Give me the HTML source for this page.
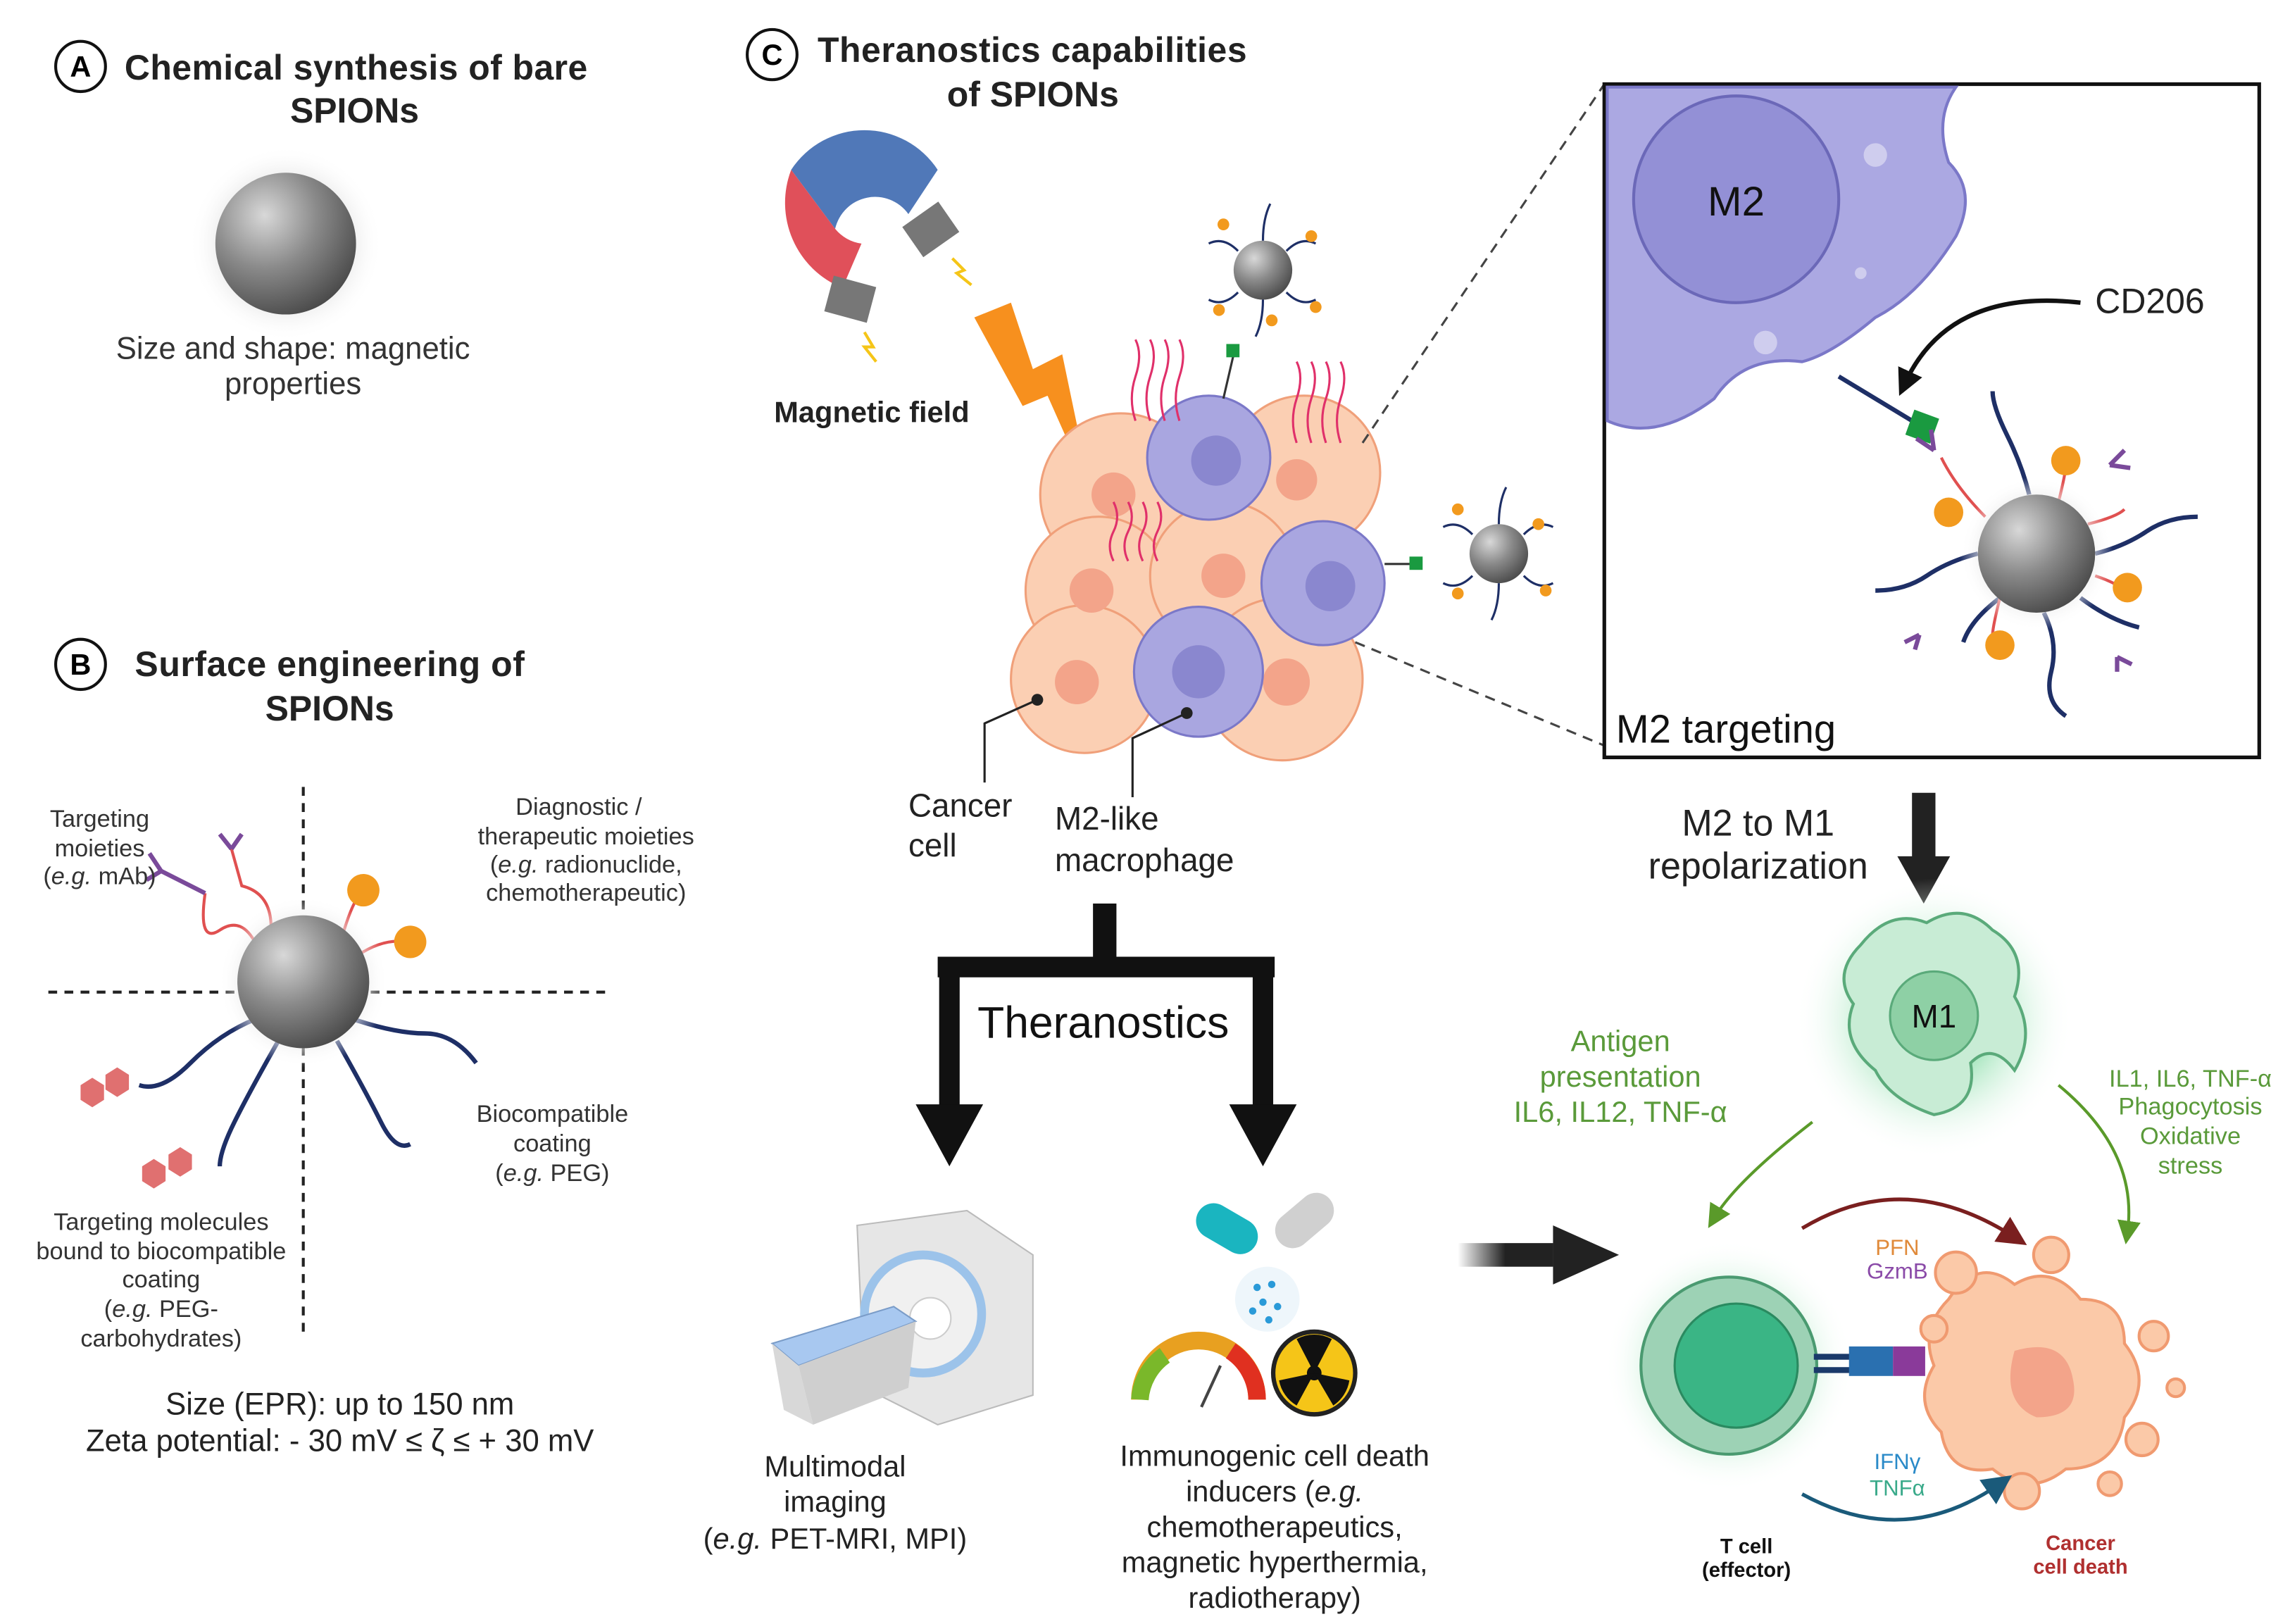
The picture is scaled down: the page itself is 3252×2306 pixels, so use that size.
<!DOCTYPE html>
<html><head><meta charset="utf-8"><style>
html,body{margin:0;padding:0;background:#fff}
svg{display:block}
text{font-family:"Liberation Sans",sans-serif}
</style></head><body>
<svg width="3252" height="2306" viewBox="0 0 1563 1100" preserveAspectRatio="none" xmlns="http://www.w3.org/2000/svg">
<defs>
<radialGradient id="sph" cx="0.35" cy="0.3" r="0.75"><stop offset="0" stop-color="#d8d8d8"/><stop offset="0.5" stop-color="#8a8a8a"/><stop offset="1" stop-color="#4a4a4a"/></radialGradient>
<radialGradient id="halo"><stop offset="0.6" stop-color="#e4e4e4"/><stop offset="1" stop-color="#fff" stop-opacity="0"/></radialGradient>
<radialGradient id="glow"><stop offset="0.4" stop-color="#a8e6bf"/><stop offset="1" stop-color="#fff" stop-opacity="0"/></radialGradient>
<linearGradient id="arr" x1="0" x2="1"><stop offset="0" stop-color="#222" stop-opacity="0"/><stop offset="0.5" stop-color="#222"/></linearGradient>
<marker id="ga" markerWidth="8" markerHeight="8" refX="4" refY="4" orient="auto"><path d="M0,0L8,4L0,8z" fill="#5a9a2a"/></marker>
<marker id="ra" markerWidth="8" markerHeight="8" refX="4" refY="4" orient="auto"><path d="M0,0L8,4L0,8z" fill="#7a1f1f"/></marker>
<marker id="ba" markerWidth="8" markerHeight="8" refX="4" refY="4" orient="auto"><path d="M0,0L8,4L0,8z" fill="#1a5a7a"/></marker>
<marker id="ka" markerWidth="6" markerHeight="6" refX="3" refY="3" orient="auto"><path d="M0,0L6,3L0,6z" fill="#111"/></marker>
</defs>

<!-- A -->
<circle cx="55" cy="45" r="17" fill="#fff" stroke="#111" stroke-width="2"/>
<text x="55" y="52" font-size="20" font-weight="bold" text-anchor="middle">A</text>
<text x="85" y="54" font-size="24" font-weight="bold" fill="#222" textLength="316">Chemical synthesis of bare</text>
<text x="242" y="83" font-size="24" font-weight="bold" fill="#222" text-anchor="middle">SPIONs</text>
<circle cx="195" cy="165" r="66" fill="url(#halo)"/>
<circle cx="195" cy="165" r="48" fill="url(#sph)"/>
<text x="200" y="243" font-size="21" fill="#333" text-anchor="middle">Size and shape: magnetic</text>
<text x="200" y="267" font-size="21" fill="#333" text-anchor="middle">properties</text>

<!-- B -->
<circle cx="55" cy="450" r="17" fill="#fff" stroke="#111" stroke-width="2"/>
<text x="55" y="457" font-size="20" font-weight="bold" text-anchor="middle">B</text>
<text x="92" y="458" font-size="24" font-weight="bold" fill="#222" textLength="266">Surface engineering of</text>
<text x="225" y="488" font-size="24" font-weight="bold" fill="#222" text-anchor="middle">SPIONs</text>
<line x1="207" y1="533" x2="207" y2="905" stroke="#222" stroke-width="2" stroke-dasharray="6,5"/>
<line x1="33" y1="672" x2="415" y2="672" stroke="#222" stroke-width="2" stroke-dasharray="6,5"/>
<g fill="none" stroke="#1e2f66" stroke-width="3">
<path d="M175,690 Q150,700 130,720 T95,735"/>
<path d="M190,705 Q170,740 160,760 T150,790"/>
<path d="M240,690 Q270,700 290,700 T325,720"/>
<path d="M230,705 Q250,740 260,760 T280,775"/>
</g>
<g fill="#e07070"><polygon points="55,735 63,730 71,735 71,745 63,750 55,745"/><polygon points="72,728 80,723 88,728 88,738 80,743 72,738"/>
<polygon points="97,790 105,785 113,790 113,800 105,805 97,800"/><polygon points="115,782 123,777 131,782 131,792 123,797 115,792"/></g>
<path d="M175,640 Q165,620 150,630 T140,605" fill="none" stroke="#e05050" stroke-width="2"/>
<path d="M140,605 L110,590" stroke="#7a4a9a" stroke-width="3"/>
<path d="M110,590 L102,578 M110,590 L100,596" stroke="#7a4a9a" stroke-width="3"/>
<path d="M185,628 Q185,605 165,600 L158,575" fill="none" stroke="#e05050" stroke-width="2"/>
<path d="M158,575 L150,565 M158,575 L165,565" stroke="#7a4a9a" stroke-width="3"/>
<path d="M232,640 Q240,610 248,603" fill="none" stroke="#e05050" stroke-width="2"/>
<path d="M240,650 Q260,635 278,638" fill="none" stroke="#e05050" stroke-width="2"/>
<circle cx="248" cy="603" r="11" fill="#f29a1e"/><circle cx="280" cy="638" r="11" fill="#f29a1e"/>
<circle cx="207" cy="665" r="58" fill="url(#halo)"/>
<circle cx="207" cy="665" r="45" fill="url(#sph)"/>
<g font-size="16.5" fill="#333" text-anchor="middle">
<text x="68" y="560">Targeting</text><text x="68" y="580">moieties</text><text x="68" y="599">(<tspan font-style="italic">e.g.</tspan> mAb)</text>
<text x="395" y="552">Diagnostic /</text><text x="400" y="572">therapeutic moieties</text><text x="400" y="591">(<tspan font-style="italic">e.g.</tspan> radionuclide,</text><text x="400" y="610">chemotherapeutic)</text>
<text x="377" y="760">Biocompatible</text><text x="377" y="780">coating</text><text x="377" y="800">(<tspan font-style="italic">e.g.</tspan> PEG)</text>
<text x="110" y="833">Targeting molecules</text><text x="110" y="853">bound to biocompatible</text><text x="110" y="872">coating</text><text x="110" y="892">(<tspan font-style="italic">e.g.</tspan> PEG-</text><text x="110" y="912">carbohydrates)</text>
</g>
<text x="232" y="958" font-size="21" fill="#222" text-anchor="middle">Size (EPR): up to 150 nm</text>
<text x="232" y="983" font-size="21" fill="#222" text-anchor="middle">Zeta potential: - 30 mV ≤ ζ ≤ + 30 mV</text>

<!-- C -->
<circle cx="527" cy="37" r="17" fill="#fff" stroke="#111" stroke-width="2"/>
<text x="527" y="44" font-size="20" font-weight="bold" text-anchor="middle">C</text>
<text x="558" y="42" font-size="24" font-weight="bold" fill="#222" textLength="293">Theranostics capabilities</text>
<text x="705" y="72" font-size="24" font-weight="bold" fill="#222" text-anchor="middle">of SPIONs</text>
<!-- magnet -->
<path d="M540,115 A60,60 0 0 1 640,115 L620,145 A28,28 0 0 0 570,155 Z" fill="#5078b8"/>
<path d="M540,115 A62,62 0 0 0 575,195 L588,165 A28,28 0 0 1 570,155 Z" fill="#e0505a"/>
<rect x="620" y="143" width="30" height="25" fill="#777" transform="rotate(-35 635 155)"/>
<rect x="566" y="190" width="30" height="25" fill="#777" transform="rotate(15 580 200)"/>
<path d="M650,175 l8,8 -5,2 10,8 M590,225 l6,10 -6,0 8,10" stroke="#f5c518" stroke-width="2" fill="none"/>
<text x="595" y="286" font-size="20" font-weight="bold" fill="#222" text-anchor="middle">Magnetic field</text>
<polygon points="665,215 690,205 705,250 725,240 745,335 715,268 698,275" fill="#f7901e"/>
<!-- cluster -->
<g fill="#fbcfb3" stroke="#f0a07a" stroke-width="1.5">
<circle cx="765" cy="335" r="55"/><circle cx="890" cy="320" r="52"/><circle cx="750" cy="400" r="50"/><circle cx="835" cy="390" r="50"/><circle cx="740" cy="460" r="50"/><circle cx="875" cy="460" r="55"/>
</g>
<g fill="#f3a48a"><circle cx="760" cy="335" r="15"/><circle cx="885" cy="325" r="14"/><circle cx="745" cy="400" r="15"/><circle cx="835" cy="390" r="15"/><circle cx="735" cy="462" r="15"/><circle cx="878" cy="462" r="16"/></g>
<g fill="#a9a6e0" stroke="#7b78c8" stroke-width="1.5">
<circle cx="825" cy="310" r="42"/><circle cx="903" cy="395" r="42"/><circle cx="818" cy="455" r="44"/>
</g>
<g fill="#8a87cf"><circle cx="830" cy="312" r="17"/><circle cx="908" cy="397" r="17"/><circle cx="818" cy="455" r="18"/></g>
<g stroke="#e0306a" stroke-width="1.5" fill="none">
<path d="M775,285 q-5,-15 0,-30 t0,-25 M785,285 q-5,-15 0,-30 t0,-25 M795,285 q-5,-15 0,-30 t0,-25 M805,285 q-5,-15 0,-30 t0,-25"/>
<path d="M885,300 q-5,-15 0,-30 t0,-25 M895,300 q-5,-15 0,-30 t0,-25 M905,300 q-5,-15 0,-30 t0,-25 M915,300 q-5,-15 0,-30 t0,-25"/>
<path d="M760,380 q-5,-10 0,-20 t0,-20 M770,380 q-5,-10 0,-20 t0,-20 M780,380 q-5,-10 0,-20 t0,-20 M790,380 q-5,-10 0,-20 t0,-20"/>
</g>
<line x1="835" y1="270" x2="842" y2="240" stroke="#333" stroke-width="1.5"/><rect x="837" y="233" width="9" height="9" fill="#1a9a40"/>
<line x1="945" y1="382" x2="965" y2="382" stroke="#333" stroke-width="1.5"/><rect x="962" y="377" width="9" height="9" fill="#1a9a40"/>
<!-- small spions -->
<g><circle cx="862" cy="183" r="20" fill="url(#sph)"/>
<g stroke="#1e2f66" stroke-width="1.5" fill="none"><path d="M845,170 q-10,-10 -20,-5 M878,170 q10,-10 20,-5 M845,198 q-10,10 -20,5 M878,198 q10,10 20,5 M862,163 q0,-15 5,-25 M862,203 q0,15 -5,25"/></g>
<g fill="#f29a1e"><circle cx="835" cy="152" r="4"/><circle cx="895" cy="160" r="4"/><circle cx="832" cy="210" r="4"/><circle cx="898" cy="208" r="4"/><circle cx="868" cy="217" r="4"/></g></g>
<g><circle cx="1023" cy="375" r="20" fill="url(#sph)"/>
<g stroke="#1e2f66" stroke-width="1.5" fill="none"><path d="M1005,362 q-10,-10 -20,-5 M1040,362 q10,-10 20,-5 M1005,390 q-10,10 -20,5 M1040,390 q10,10 20,5 M1023,355 q0,-15 5,-25 M1023,395 q0,15 -5,25"/></g>
<g fill="#f29a1e"><circle cx="995" cy="345" r="4"/><circle cx="1050" cy="355" r="4"/><circle cx="995" cy="402" r="4"/><circle cx="1055" cy="400" r="4"/></g></g>
<!-- labels -->
<path d="M708,474 L672,490 L672,530" stroke="#222" stroke-width="1.5" fill="none"/><circle cx="708" cy="474" r="4" fill="#222"/>
<path d="M810,483 L773,500 L773,540" stroke="#222" stroke-width="1.5" fill="none"/><circle cx="810" cy="483" r="4" fill="#222"/>
<g font-size="22" fill="#222"><text x="620" y="553">Cancer</text><text x="620" y="580">cell</text><text x="720" y="562">M2-like</text><text x="720" y="590">macrophage</text></g>
<!-- dashed to inset -->
<line x1="930" y1="300" x2="1095" y2="57" stroke="#444" stroke-width="1.5" stroke-dasharray="7,5"/>
<line x1="925" y1="435" x2="1095" y2="505" stroke="#444" stroke-width="1.5" stroke-dasharray="7,5"/>
<!-- inset -->
<rect x="1095" y="57" width="447" height="456" fill="#fff" stroke="#111" stroke-width="2.5"/>
<path d="M1097,59 L1335,59 Q1320,80 1330,110 Q1350,130 1335,160 Q1310,200 1280,215 Q1250,240 1230,245 Q1190,240 1170,270 Q1130,300 1097,285 Z" fill="#aba8e2" stroke="#7b78c8" stroke-width="2"/>
<circle cx="1185" cy="135" r="70" fill="#9390d6" stroke="#6b68b8" stroke-width="2"/>
<text x="1185" y="146" font-size="28" fill="#111" text-anchor="middle">M2</text>
<circle cx="1280" cy="105" r="8" fill="#cfcdee"/><circle cx="1205" cy="232" r="8" fill="#cfcdee"/><circle cx="1270" cy="185" r="4" fill="#cfcdee"/>
<line x1="1255" y1="255" x2="1310" y2="288" stroke="#1e2f66" stroke-width="3"/>
<rect x="1303" y="280" width="18" height="18" fill="#1a9a40" transform="rotate(20 1312 289)"/>
<path d="M1420,205 Q1330,195 1300,260" fill="none" stroke="#111" stroke-width="3" marker-end="url(#ka)"/>
<text x="1430" y="212" font-size="24" fill="#222">CD206</text>
<g stroke="#1e2f66" stroke-width="3" fill="none">
<path d="M1350,375 q-20,5 -35,15 t-35,10"/><path d="M1430,375 q20,-5 35,-15 t35,-10"/>
<path d="M1385,335 q-5,-20 -15,-40 t-10,-30"/><path d="M1395,415 q10,20 5,40 t10,30"/>
<path d="M1365,405 q-20,15 -25,30"/><path d="M1420,405 q20,15 40,20"/>
</g>
<g stroke="#e05050" stroke-width="2" fill="none"><path d="M1355,350 q-20,-20 -30,-40"/><path d="M1405,340 q5,-20 5,-25"/><path d="M1425,355 q20,-5 25,-10"/><path d="M1430,390 q15,5 20,10"/><path d="M1365,405 q-5,20 -5,25"/></g>
<g stroke="#7a4a9a" stroke-width="3"><path d="M1320,305 l-12,-8 M1320,305 l-2,-14"/><path d="M1440,315 l10,-10 M1440,315 l14,2"/><path d="M1310,430 l-10,5 M1310,430 l-3,10"/><path d="M1445,445 l10,5 M1445,445 l0,10"/></g>
<g fill="#f29a1e"><circle cx="1330" cy="347" r="10"/><circle cx="1410" cy="312" r="10"/><circle cx="1452" cy="398" r="10"/><circle cx="1365" cy="437" r="10"/></g>
<circle cx="1390" cy="375" r="52" fill="url(#halo)"/>
<circle cx="1390" cy="375" r="40" fill="url(#sph)"/>
<text x="1103" y="503" font-size="27" fill="#111">M2 targeting</text>

<!-- repolarization -->
<text x="1200" y="566" font-size="25" fill="#222" text-anchor="middle">M2 to M1</text>
<text x="1200" y="595" font-size="25" fill="#222" text-anchor="middle">repolarization</text>
<rect x="1305" y="537" width="16" height="45" fill="#222"/><polygon points="1295,580 1331,580 1313,612" fill="#222"/>

<!-- theranostics tree -->
<rect x="746" y="612" width="16" height="45" fill="#111"/>
<path d="M648,655 L648,750 M862,655 L862,750 M640,655 L870,655" stroke="#111" stroke-width="14" fill="none"/>
<polygon points="625,748 671,748 648,790" fill="#111"/><polygon points="839,748 885,748 862,790" fill="#111"/>
<text x="753" y="703" font-size="30" fill="#111" text-anchor="middle">Theranostics</text>

<!-- MRI -->
<path d="M585,830 L660,820 L705,850 L705,945 L640,965 L590,940 Z" fill="#e6e6e6" stroke="#bbb"/>
<circle cx="630" cy="890" r="40" fill="#f0f0f0" stroke="#9cc3ea" stroke-width="6"/>
<circle cx="635" cy="893" r="14" fill="#fff" stroke="#ccc"/>
<path d="M527,910 L610,885 L625,895 L545,925 Z" fill="#a8c8f0" stroke="#7a9cc8"/>
<path d="M527,910 L545,925 L555,965 L535,955 Z" fill="#d8d8d8"/>
<path d="M545,925 L625,895 L620,940 L555,965 Z" fill="#cfcfcf"/>
<g font-size="20" fill="#222" text-anchor="middle"><text x="570" y="1000">Multimodal</text><text x="570" y="1024">imaging</text><text x="570" y="1049">(<tspan font-style="italic">e.g.</tspan> PET-MRI, MPI)</text></g>
<!-- pills -->
<rect x="815" y="820" width="45" height="24" rx="12" fill="#1ab5c0" transform="rotate(30 837 832)"/>
<rect x="868" y="815" width="45" height="24" rx="12" fill="#d0d0d0" transform="rotate(-40 890 827)"/>
<circle cx="865" cy="880" r="22" fill="#eef6fb"/>
<g fill="#2a9ad8"><circle cx="858" cy="872" r="2.5"/><circle cx="868" cy="870" r="2.5"/><circle cx="862" cy="882" r="2.5"/><circle cx="872" cy="885" r="2.5"/><circle cx="855" cy="888" r="2.5"/><circle cx="866" cy="894" r="2.5"/></g>
<path d="M778,948 A40,40 0 0 1 858,948" fill="none" stroke="#e8a020" stroke-width="12"/>
<path d="M778,948 A40,40 0 0 1 795,918" fill="none" stroke="#7ab82a" stroke-width="12"/>
<path d="M840,915 A40,40 0 0 1 858,948" fill="none" stroke="#e03020" stroke-width="12"/>
<line x1="820" y1="953" x2="833" y2="925" stroke="#444" stroke-width="2"/>
<circle cx="897" cy="930" r="28" fill="#f5c518" stroke="#222" stroke-width="3"/>
<circle cx="897" cy="930" r="5" fill="#111"/>
<path d="M897,930 L885,907 A25,25 0 0 1 909,907 Z M897,930 L921,935 A25,25 0 0 1 910,952 Z M897,930 L885,952 A25,25 0 0 1 873,935 Z" fill="#111"/>
<g font-size="20" fill="#222" text-anchor="middle"><text x="870" y="993">Immunogenic cell death</text><text x="870" y="1017">inducers (<tspan font-style="italic">e.g.</tspan></text><text x="870" y="1041">chemotherapeutics,</text><text x="870" y="1065">magnetic hyperthermia,</text><text x="870" y="1089">radiotherapy)</text></g>

<!-- big arrow -->
<rect x="995" y="842" width="65" height="16" fill="url(#arr)"/><polygon points="1060,830 1105,850 1060,870" fill="#222"/>

<!-- M1 -->
<circle cx="1320" cy="690" r="95" fill="url(#glow)"/>
<path d="M1270,640 Q1290,615 1315,625 Q1340,610 1360,630 Q1385,645 1375,675 Q1390,700 1375,725 Q1360,705 1345,720 Q1350,750 1320,755 Q1290,745 1280,725 Q1255,705 1265,680 Q1250,660 1270,640 Z" fill="#c8ecd5" stroke="#5aaa7a" stroke-width="2"/>
<circle cx="1320" cy="688" r="30" fill="#8ed0a5" stroke="#5aaa7a" stroke-width="1.5"/>
<text x="1320" y="696" font-size="22" fill="#111" text-anchor="middle">M1</text>
<g font-size="20" fill="#5a9a3a" text-anchor="middle"><text x="1106" y="712">Antigen</text><text x="1106" y="736">presentation</text><text x="1106" y="760">IL6, IL12, TNF-α</text></g>
<g font-size="16.5" fill="#5a9a3a" text-anchor="middle"><text x="1495" y="736">IL1, IL6, TNF-α</text><text x="1495" y="755">Phagocytosis</text><text x="1495" y="775">Oxidative</text><text x="1495" y="795">stress</text></g>
<path d="M1237,760 Q1185,800 1170,825" fill="none" stroke="#5a9a2a" stroke-width="2" marker-end="url(#ga)"/>
<path d="M1405,735 Q1460,780 1452,835" fill="none" stroke="#5a9a2a" stroke-width="2" marker-end="url(#ga)"/>
<!-- T cell -->
<circle cx="1180" cy="925" r="85" fill="url(#glow)"/>
<circle cx="1180" cy="925" r="60" fill="#9dd2b5" stroke="#4a9a70" stroke-width="2"/>
<circle cx="1185" cy="925" r="42" fill="#3ab585" stroke="#2a8a60" stroke-width="1.5"/>
<rect x="1238" y="917" width="30" height="4" fill="#1a3a6a"/><rect x="1238" y="926" width="30" height="4" fill="#1a3a6a"/>
<rect x="1262" y="912" width="30" height="20" fill="#2a70b0"/><rect x="1292" y="912" width="22" height="20" fill="#8a3a9a"/>
<!-- cancer death -->
<g fill="#fbc9a8" stroke="#f09a70" stroke-width="2">
<path d="M1330,880 Q1350,850 1375,870 Q1400,855 1420,880 Q1450,880 1450,910 Q1470,935 1450,960 Q1445,995 1410,995 Q1385,1015 1360,995 Q1330,1000 1325,970 Q1305,950 1320,925 Q1310,900 1330,880 Z"/>
<circle cx="1335" cy="862" r="14"/><circle cx="1400" cy="850" r="12"/><circle cx="1470" cy="905" r="10"/><circle cx="1462" cy="975" r="11"/><circle cx="1380" cy="1010" r="12"/><circle cx="1440" cy="1005" r="8"/><circle cx="1320" cy="900" r="9"/><circle cx="1485" cy="940" r="6"/>
</g>
<path d="M1375,915 Q1410,905 1415,935 Q1420,960 1390,960 Q1365,950 1375,915 Z" fill="#f3a48a"/>
<path d="M1230,832 Q1300,790 1375,838" fill="none" stroke="#7a1f1f" stroke-width="2.5" marker-end="url(#ra)"/>
<path d="M1230,1012 Q1300,1050 1365,1005" fill="none" stroke="#1a5a7a" stroke-width="2.5" marker-end="url(#ba)"/>
<text x="1295" y="850" font-size="15" fill="#e08a3a" text-anchor="middle">PFN</text>
<text x="1295" y="866" font-size="15" fill="#8a4aa8" text-anchor="middle">GzmB</text>
<text x="1295" y="995" font-size="15" fill="#2a8ac8" text-anchor="middle">IFNγ</text>
<text x="1295" y="1013" font-size="15" fill="#3aaa8a" text-anchor="middle">TNFα</text>
<text x="1192" y="1052" font-size="14" font-weight="bold" fill="#111" text-anchor="middle">T cell</text>
<text x="1192" y="1068" font-size="14" font-weight="bold" fill="#111" text-anchor="middle">(effector)</text>
<text x="1420" y="1050" font-size="14" font-weight="bold" fill="#b03030" text-anchor="middle">Cancer</text>
<text x="1420" y="1066" font-size="14" font-weight="bold" fill="#b03030" text-anchor="middle">cell death</text>
</svg>
</body></html>
